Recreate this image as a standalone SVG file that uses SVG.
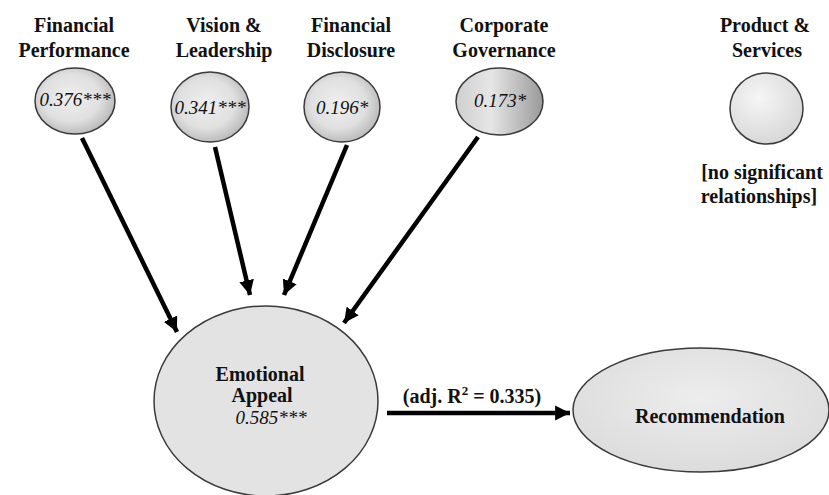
<svg xmlns="http://www.w3.org/2000/svg" width="829" height="495" viewBox="0 0 829 495">
<defs>
<radialGradient id="gSmall" cx="0.45" cy="0.45" r="0.6">
<stop offset="0" stop-color="#efefef"/>
<stop offset="0.6" stop-color="#e0e0e0"/>
<stop offset="1" stop-color="#b4b4b4"/>
</radialGradient>
<linearGradient id="gGov" x1="0" y1="0" x2="1" y2="0">
<stop offset="0" stop-color="#cfcfcf"/>
<stop offset="0.4" stop-color="#e6e6e6"/>
<stop offset="1" stop-color="#9a9a9a"/>
</linearGradient>
<radialGradient id="gProd" cx="0.4" cy="0.35" r="0.7">
<stop offset="0" stop-color="#f6f6f6"/>
<stop offset="1" stop-color="#d6d6d6"/>
</radialGradient>
<radialGradient id="gRec" cx="0.5" cy="0.4" r="0.6">
<stop offset="0" stop-color="#ededed"/>
<stop offset="1" stop-color="#dcdcdc"/>
</radialGradient>
<marker id="ah" viewBox="0 0 10 10" refX="10" refY="5" markerWidth="3.3" markerHeight="3.5" orient="auto" markerUnits="strokeWidth">
<path d="M0,0 L10,5 L0,10 z" fill="#000"/>
</marker>
</defs>
<style>
.node{stroke:#3a3a3a;stroke-width:1.5}
.t{font-weight:bold;font-size:20px;fill:#111;text-anchor:middle}
.v{font-style:italic;font-size:19px;fill:#111;text-anchor:middle}
.conn line{stroke:#000;stroke-width:4.5;marker-end:url(#ah)}
</style>
<rect width="829" height="495" fill="#fff"/>
<g font-family="Liberation Serif, Times New Roman, serif">
<g id="financial-performance">
<text class="t" x="74" y="32">Financial</text>
<text class="t" x="74" y="57">Performance</text>
<ellipse class="node" cx="75" cy="101" rx="40" ry="33" fill="url(#gSmall)"/>
<text class="v" x="75" y="106">0.376***</text>
</g>

<g id="vision-leadership">
<text class="t" x="224" y="32">Vision &amp;</text>
<text class="t" x="224" y="57">Leadership</text>
<ellipse class="node" cx="210" cy="107" rx="39" ry="35" fill="url(#gSmall)"/>
<text class="v" x="210" y="114">0.341***</text>
</g>

<g id="financial-disclosure">
<text class="t" x="351" y="32">Financial</text>
<text class="t" x="351" y="57">Disclosure</text>
<ellipse class="node" cx="342" cy="107" rx="38" ry="35" fill="url(#gSmall)"/>
<text class="v" x="342" y="114">0.196*</text>
</g>

<g id="corporate-governance">
<text class="t" x="504" y="32">Corporate</text>
<text class="t" x="504" y="57">Governance</text>
<ellipse class="node" cx="499.5" cy="101.5" rx="43.5" ry="33.5" fill="url(#gGov)"/>
<text class="v" x="500" y="107">0.173*</text>
</g>

<g id="product-services">
<text class="t" x="765" y="32">Product &amp;</text>
<text class="t" x="767" y="57">Services</text>
<ellipse class="node" cx="766.5" cy="108.5" rx="36.5" ry="35.5" fill="url(#gProd)"/>
<text class="t" x="762" y="179">[no significant</text>
<text class="t" x="759" y="203">relationships]</text>
</g>

<g id="emotional-appeal">
<ellipse class="node" cx="266" cy="401" rx="112" ry="95" fill="#e3e3e3"/>
<text class="t" x="260" y="381">Emotional</text>
<text class="t" x="262" y="402">Appeal</text>
<text class="v" x="271" y="424">0.585***</text>
</g>

<g id="recommendation">
<ellipse class="node" cx="701" cy="410" rx="128" ry="62" fill="url(#gRec)"/>
<text class="t" x="710" y="423">Recommendation</text>
</g>

<g class="conn" id="connectors">
<line x1="82" y1="138" x2="177" y2="332"/>
<line x1="215" y1="147" x2="250" y2="295"/>
<line x1="347" y1="145" x2="284" y2="295"/>
<line x1="478" y1="137" x2="344" y2="323"/>
<line x1="387" y1="413" x2="570" y2="413"/>
<text class="t" x="472" y="403">(adj. R<tspan dy="-8" font-size="13">2</tspan><tspan dy="8"> = 0.335)</tspan></text>
</g>
</g>
</svg>
